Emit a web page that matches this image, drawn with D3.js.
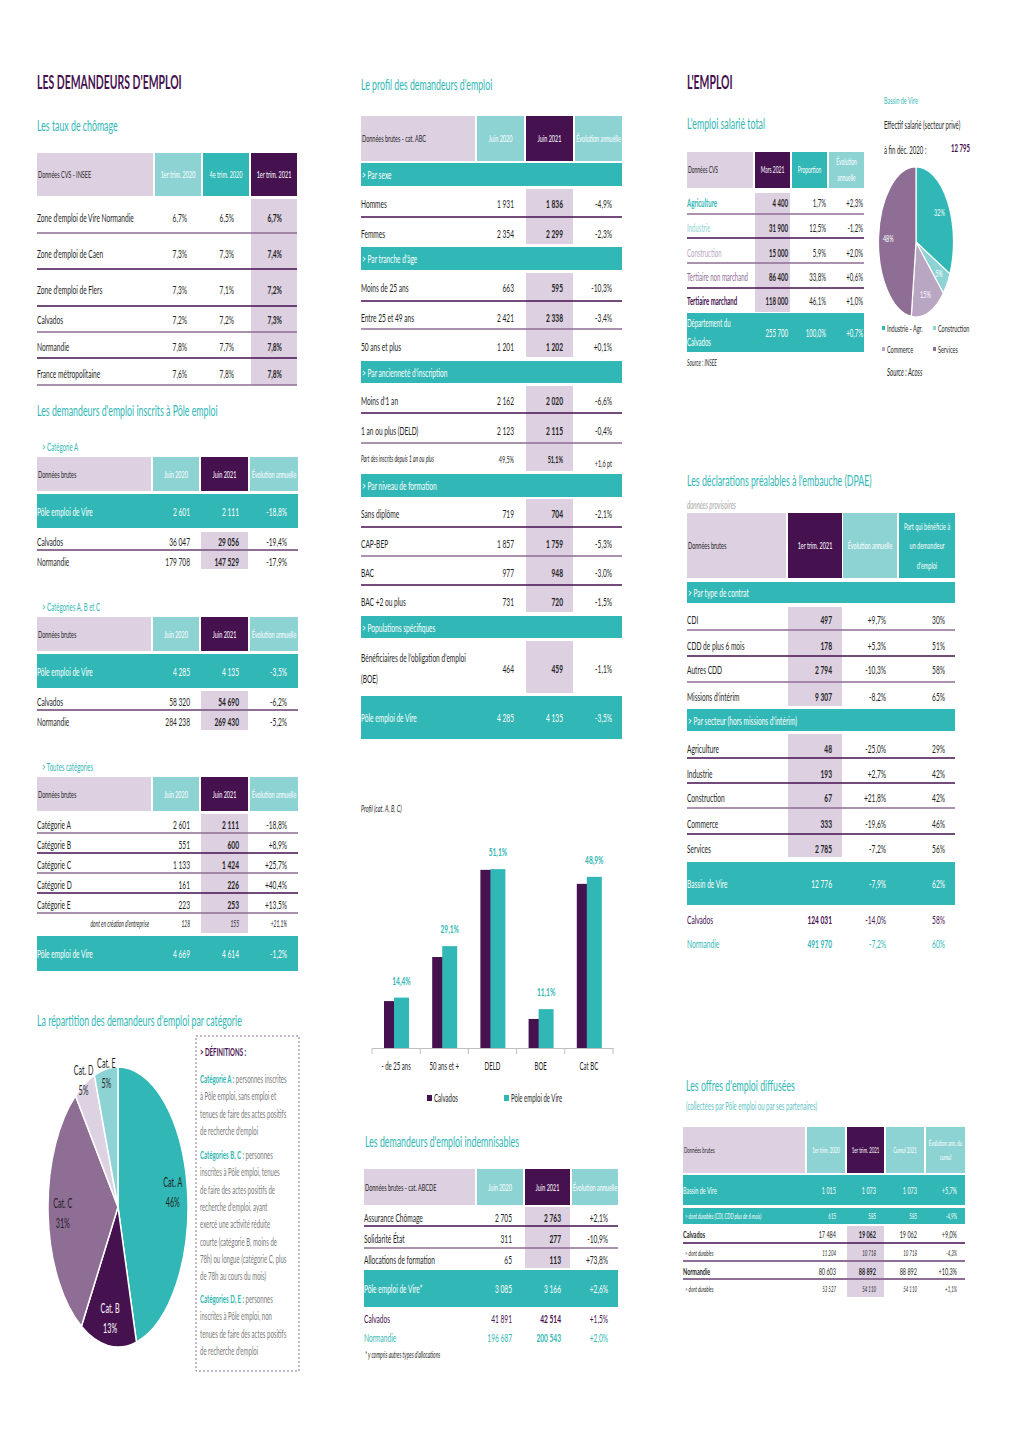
<!DOCTYPE html>
<html><head><meta charset="utf-8">
<script src="https://cdn.jsdelivr.net/npm/d3@7"></script>
<style>body{margin:0;background:#fff} svg{display:block;font-family:Lato,"Open Sans",sans-serif}</style>
</head><body><svg id="c" width="1020" height="1442"></svg>
<script>
// ================= DATA =================
const tauxHeads = ["1er trim. 2020", "4e trim. 2020", "1er trim. 2021"];
const tauxChomage = [
  ["Zone d'emploi de Vire Normandie", "6,7%", "6,5%", "6,7%"],
  ["Zone d'emploi de Caen", "7,3%", "7,3%", "7,4%"],
  ["Zone d'emploi de Flers", "7,3%", "7,1%", "7,2%"],
  ["Calvados", "7,2%", "7,2%", "7,3%"],
  ["Normandie", "7,8%", "7,7%", "7,8%"],
  ["France métropolitaine", "7,6%", "7,8%", "7,8%"]
];
const juinHeads = ["Juin 2020", "Juin 2021", "Évolution annuelle"];
const categorieA = [
  ["Pôle emploi de Vire", "2 601", "2 111", "-18,8%"],
  ["Calvados", "36 047", "29 056", "-19,4%"],
  ["Normandie", "179 708", "147 529", "-17,9%"]
];
const categoriesABC = [
  ["Pôle emploi de Vire", "4 285", "4 135", "-3,5%"],
  ["Calvados", "58 320", "54 690", "-6,2%"],
  ["Normandie", "284 238", "269 430", "-5,2%"]
];
const toutesCategories = [
  ["Catégorie A", "2 601", "2 111", "-18,8%"],
  ["Catégorie B", "551", "600", "+8,9%"],
  ["Catégorie C", "1 133", "1 424", "+25,7%"],
  ["Catégorie D", "161", "226", "+40,4%"],
  ["Catégorie E", "223", "253", "+13,5%"],
  ["dont en création d'entreprise", "128", "155", "+21,1%"],
  ["Pôle emploi de Vire", "4 669", "4 614", "-1,2%"]
];
const pieCategories = ["Cat. A", "Cat. B", "Cat. C", "Cat. D", "Cat. E"];
const pieCategoryValues = [2111, 600, 1424, 226, 253];
const definitions = [
  ["Catégorie A :", ["personnes inscrites", "à Pôle emploi, sans emploi et", "tenues de faire des actes positifs", "de recherche d'emploi"]],
  ["Catégories B, C :", ["personnes", "inscrites à Pôle emploi, tenues", "de faire des actes positifs de", "recherche d'emploi, ayant", "exercé une activité réduite", "courte (catégorie B, moins de", "78h) ou longue (catégorie C, plus", "de 78h au cours du mois)"]],
  ["Catégories D, E :", ["personnes", "inscrites à Pôle emploi, non", "tenues de faire des actes positifs", "de recherche d'emploi"]]
];
const profil = [
  ["> Par sexe"],
  ["Hommes", "1 931", "1 836", "-4,9%"],
  ["Femmes", "2 354", "2 299", "-2,3%"],
  ["> Par tranche d'âge"],
  ["Moins de 25 ans", "663", "595", "-10,3%"],
  ["Entre 25 et 49 ans", "2 421", "2 338", "-3,4%"],
  ["50 ans et plus", "1 201", "1 202", "+0,1%"],
  ["> Par ancienneté d'inscription"],
  ["Moins d'1 an", "2 162", "2 020", "-6,6%"],
  ["1 an ou plus (DELD)", "2 123", "2 115", "-0,4%"],
  ["Part des inscrits depuis 1 an ou plus", "49,5%", "51,1%", "+1,6 pt"],
  ["> Par niveau de formation"],
  ["Sans diplôme", "719", "704", "-2,1%"],
  ["CAP-BEP", "1 857", "1 759", "-5,3%"],
  ["BAC", "977", "948", "-3,0%"],
  ["BAC +2 ou plus", "731", "720", "-1,5%"],
  ["> Populations spécifiques"],
  ["Bénéficiaires de l'obligation d'emploi\n(BOE)", "464", "459", "-1,1%"],
  ["Pôle emploi de Vire", "4 285", "4 135", "-3,5%"]
];
const profilCategories = ["- de 25 ans", "50 ans et +", "DELD", "BOE", "Cat BC"];
const profilSeries = ["Calvados", "Pôle emploi de Vire"];
const profilCalvados = [13.4, 26.0, 50.9, 8.3, 46.9];
const profilVire = [14.4, 29.1, 51.1, 11.1, 48.9];
const indemnisables = [
  ["Assurance Chômage", "2 705", "2 763", "+2,1%"],
  ["Solidarité État", "311", "277", "-10,9%"],
  ["Allocations de formation", "65", "113", "+73,8%"],
  ["Pôle emploi de Vire*", "3 085", "3 166", "+2,6%"],
  ["Calvados", "41 891", "42 514", "+1,5%"],
  ["Normandie", "196 687", "200 543", "+2,0%"]
];
const emploiHeads = ["Mars 2021", "Proportion", "Évolution\nannuelle"];
const emploiSalarie = [
  ["Agriculture", "4 400", "1,7%", "+2,3%"],
  ["Industrie", "31 900", "12,5%", "-1,2%"],
  ["Construction", "15 000", "5,9%", "+2,0%"],
  ["Tertiaire non marchand", "86 400", "33,8%", "+0,6%"],
  ["Tertiaire marchand", "118 000", "46,1%", "+1,0%"],
  ["Département du\nCalvados", "255 700", "100,0%", "+0,7%"]
];
const secteurLabels = ["Industrie - Agr.", "Construction", "Commerce", "Services"];
const secteurParts = [32, 5, 15, 48];
const dpaeHeads = ["1er trim. 2021", "Évolution annuelle", "Part qui bénéficie à\nun demandeur\nd'emploi"];
const dpae = [
  ["> Par type de contrat"],
  ["CDI", "497", "+9,7%", "30%"],
  ["CDD de plus 6 mois", "178", "+5,3%", "51%"],
  ["Autres CDD", "2 794", "-10,3%", "58%"],
  ["Missions d'intérim", "9 307", "-8,2%", "65%"],
  ["> Par secteur (hors missions d'intérim)"],
  ["Agriculture", "48", "-25,0%", "29%"],
  ["Industrie", "193", "+2,7%", "42%"],
  ["Construction", "67", "+21,8%", "42%"],
  ["Commerce", "333", "-19,6%", "46%"],
  ["Services", "2 785", "-7,2%", "56%"],
  ["Bassin de Vire", "12 776", "-7,9%", "62%"],
  ["Calvados", "124 031", "-14,0%", "58%"],
  ["Normandie", "491 970", "-7,2%", "60%"]
];
const offresHeads = ["1er trim. 2020", "1er trim. 2021", "Cumul 2021", "Évolution ann. du\ncumul"];
const offres = [
  ["Bassin de Vire", "1 015", "1 073", "1 073", "+5,7%"],
  ["> dont durables (CDI, CDD plus de 6 mois)", "615", "585", "585", "-4,9%"],
  ["Calvados", "17 484", "19 062", "19 062", "+9,0%"],
  ["> dont durables", "11 204", "10 718", "10 718", "-4,3%"],
  ["Normandie", "80 603", "88 892", "88 892", "+10,3%"],
  ["> dont durables", "53 527", "54 110", "54 110", "+1,1%"]
];

// ================= STYLE / HELPERS =================
const SX = 0.55;
const DP = "#45114f", TEAL = "#31b7b5", LTEAL = "#8ed3d4", LAV = "#dcd0e1",
      MP = "#8e6e95", LAV2 = "#b9a6c3", INK = "#1f1f1f", GRAY = "#7a7a7a";
const svg = d3.select("#c");
svg.append("rect").attr("width", 1020).attr("height", 1442).attr("fill", "#fff");

function T(g, x, y, s, o = {}) {
  return g.append("text")
    .attr("transform", `translate(${x},${y}) scale(${o.sx || SX},1)`)
    .attr("text-anchor", o.anchor || "start")
    .attr("dominant-baseline", "central")
    .style("font-size", (o.size || 12) + "px")
    .style("font-weight", o.weight || "normal")
    .style("font-style", o.italic ? "italic" : "normal")
    .attr("fill", o.fill || INK)
    .text(s);
}
function R(g, x, y, w, h, f) {
  return g.append("rect").attr("x", x).attr("y", y).attr("width", w).attr("height", h).attr("fill", f);
}
function L(g, x1, x2, y, c, w) {
  g.append("line").attr("x1", x1).attr("x2", x2).attr("y1", y).attr("y2", y)
    .attr("stroke", c).attr("stroke-width", w || 1.3);
}

function table(o, data, layout) {
  const g = svg.append("g");
  const right = o.cols[o.cols.length - 1][1];
  const hs = o.hs || 10, fs = o.fs || 12;
  R(g, o.lx0, o.hy[0], o.lx1 - o.lx0, o.hy[1] - o.hy[0], LAV);
  T(g, o.lx0 + 1, (o.hy[0] + o.hy[1]) / 2, o.hLabel, { size: hs });
  o.cols.forEach((c, i) => {
    R(g, c[0], o.hy[0], c[1] - c[0], o.hy[1] - o.hy[0], o.hFill[i]);
    const lines = o.heads[i].split("\n"), lh = o.hlh || 14;
    lines.forEach((s, j) => T(g, (c[0] + c[1]) / 2, (o.hy[0] + o.hy[1]) / 2 + (j - (lines.length - 1) / 2) * lh, s,
      { size: hs, fill: "#fff", anchor: "middle" }));
  });
  const hc = o.cols[o.hi];
  o.hiR.forEach(r => R(g, hc[0], r[0], hc[1] - hc[0], r[1] - r[0], LAV));
  layout.forEach((r, idx) => {
    const d = data[idx];
    const ls = r.ls || fs, vs = r.vs || fs;
    if (r.k === "b") {
      R(g, o.lx0, r.y0, right - o.lx0, r.y1 - r.y0, TEAL);
      T(g, o.lx0 + 1, (r.y0 + r.y1) / 2, d[0], { size: fs, fill: "#fff" });
      return;
    }
    let y = r.y, lf = r.lf || INK, vf = r.vf || INK;
    if (r.k === "t") {
      R(g, o.lx0, r.y0, right - o.lx0, r.y1 - r.y0, TEAL);
      y = (r.y0 + r.y1) / 2; lf = "#fff"; vf = "#fff";
    }
    const lines = d[0].split("\n"), lh = r.lh || 14;
    lines.forEach((s, j) => T(g, r.lx || o.lx0, y + (j - (lines.length - 1) / 2) * lh, s,
      { size: ls, fill: lf, italic: r.it, weight: r.lb ? "bold" : "normal", anchor: r.la || "start" }));
    d.slice(1).forEach((v, i) => T(g, o.vx[i], y + ((r.vdy && r.vdy[i]) || 0), v,
      { size: vs, fill: vf, anchor: "end", italic: r.it && r.vit,
        weight: (i === o.hi && r.k !== "t" && !r.nb) ? "bold" : "normal" }));
    if (r.line) L(g, o.lx0, right, r.line, r.lc || DP, r.lw);
  });
}

// ================= LEFT COLUMN =================
T(svg, 37, 82, "LES DEMANDEURS D'EMPLOI", { size: 19, weight: "bold", fill: DP });
T(svg, 37, 125, "Les taux de chômage", { size: 16, fill: TEAL });

table({ lx0: 37, lx1: 153, cols: [[155, 201], [203, 249], [251, 297]], vx: [187, 234, 282],
        hy: [153, 196], hLabel: "Données CVS - INSEE", heads: tauxHeads, hFill: [LTEAL, TEAL, DP],
        hi: 2, hiR: [[199, 385]] }, tauxChomage,
  [{ y: 217, line: 233, lc: MP }, { y: 253, line: 269 }, { y: 289, line: 306 },
   { y: 319, line: 332, lc: MP }, { y: 346, line: 358 }, { y: 373, line: 385, lc: MP }]);

T(svg, 37, 410, "Les demandeurs d'emploi inscrits à Pôle emploi", { size: 16, fill: TEAL });
T(svg, 42, 447, "> Catégorie A", { size: 11, fill: TEAL });
const juinCols = { lx0: 37, lx1: 151, cols: [[153, 199], [201, 248], [250, 298]], vx: [190, 239, 287],
  hLabel: "Données brutes", heads: juinHeads, hFill: [LTEAL, DP, LTEAL], hi: 1 };
table({ ...juinCols, hy: [457, 491], hiR: [[532, 569]] }, categorieA,
  [{ k: "t", y0: 494, y1: 528 }, { y: 541, line: 550, lc: MP, lw: 2 }, { y: 561 }]);
T(svg, 42, 607, "> Catégories A, B et C", { size: 11, fill: TEAL });
table({ ...juinCols, hy: [617, 651], hiR: [[691, 730]] }, categoriesABC,
  [{ k: "t", y0: 654, y1: 688 }, { y: 701, line: 710, lc: MP, lw: 2 }, { y: 721 }]);
T(svg, 42, 767, "> Toutes catégories", { size: 11, fill: TEAL });
table({ ...juinCols, hy: [777, 811], hiR: [[814, 933]] }, toutesCategories,
  [{ y: 824, line: 833, lc: MP }, { y: 844, line: 853 }, { y: 864, line: 873, lc: MP },
   { y: 884, line: 893 }, { y: 904, line: 913, lc: MP },
   { y: 924, it: true, ls: 9, vs: 9, vit: true, nb: true, lx: 149, la: "end" },
   { k: "t", y0: 936, y1: 971 }]);

T(svg, 37, 1020, "La répartition des demandeurs d'emploi par catégorie", { size: 16, fill: TEAL });
// pie (ellipse, horizontally compressed like the reference)
const pieColors = [TEAL, DP, MP, "#ddd2e2", LTEAL];
const pieLabelFill = [INK, "#fff", INK, INK, INK];
const pieLabelR = [0.79, 0.8, 0.79, 1.03, 0.97];
const pcx = 118, pcy = 1207, pr = 140;
const arcsL = d3.pie().sort(null)(pieCategoryValues);
const totalL = d3.sum(pieCategoryValues);
svg.append("g").attr("transform", `translate(${pcx},${pcy}) scale(0.5,1)`)
  .selectAll("path").data(arcsL).join("path")
  .attr("d", d3.arc().innerRadius(0).outerRadius(pr))
  .attr("fill", (d, i) => pieColors[i]).attr("stroke", "#fff").attr("stroke-width", 1.5)
  .attr("vector-effect", "non-scaling-stroke");
arcsL.forEach((d, i) => {
  const a = (d.startAngle + d.endAngle) / 2, rr = pr * pieLabelR[i];
  const x = pcx + 0.5 * rr * Math.sin(a), y = pcy - rr * Math.cos(a);
  T(svg, x, y - 10, pieCategories[i], { size: 13, anchor: "middle", fill: pieLabelFill[i] });
  T(svg, x, y + 10, Math.round(d.value / totalL * 100) + "%", { size: 13, anchor: "middle", fill: pieLabelFill[i] });
});
// definitions box
svg.append("rect").attr("x", 196).attr("y", 1036).attr("width", 103).attr("height", 335)
  .attr("fill", "none").attr("stroke", MP).attr("stroke-width", 1).attr("stroke-dasharray", "2,2");
T(svg, 200, 1052, "> DÉFINITIONS :", { size: 11, weight: "bold", fill: DP });
const defStart = [1078, 1154, 1298], defLH = 17.35;
definitions.forEach((blk, b) => {
  blk[1].forEach((s, j) => {
    const t = T(svg, 200, defStart[b] + j * defLH, "", { size: 11, fill: GRAY });
    if (j === 0) t.append("tspan").attr("fill", TEAL).style("font-weight", "bold").text(blk[0] + " ");
    t.append("tspan").text(s);
  });
});

// ================= MIDDLE COLUMN =================
T(svg, 361, 84, "Le profil des demandeurs d'emploi", { size: 16, fill: TEAL });
table({ lx0: 361, lx1: 475, cols: [[477, 524], [526, 573], [575, 622]], vx: [514, 563, 612],
        hy: [116, 161], hLabel: "Données brutes - cat. ABC", heads: juinHeads, hFill: [LTEAL, DP, LTEAL],
        hi: 1, hiR: [[189, 244], [273, 357], [386, 471], [499, 612], [641, 693]] }, profil,
  [{ k: "b", y0: 163, y1: 186 },
   { y: 203, line: 217 }, { y: 233 },
   { k: "b", y0: 247, y1: 270 },
   { y: 287, line: 301 }, { y: 317, line: 329, lc: MP }, { y: 346 },
   { k: "b", y0: 361, y1: 383 },
   { y: 400, line: 413 }, { y: 430, line: 443, lc: MP },
   { y: 459, it: true, ls: 9, vs: 10, vdy: [0, 0, 4] },
   { k: "b", y0: 474, y1: 497 },
   { y: 513, line: 527 }, { y: 543, line: 556, lc: MP }, { y: 572, line: 585 }, { y: 601 },
   { k: "b", y0: 616, y1: 638 },
   { y: 668, lh: 21 },
   { k: "t", y0: 696, y1: 739 }]);

// bar chart
T(svg, 361, 808, "Profil (cat. A, B, C)", { size: 10, italic: true });
const xb = d3.scaleBand().domain(profilCategories).range([372, 613]);
const yb = d3.scaleLinear().domain([0, 60]).range([1048, 838]);
const gb = svg.append("g");
const barOff = [12, 22], barW = 15, barFill = [DP, TEAL];
[profilCalvados, profilVire].forEach((vals, s) => {
  gb.selectAll(null).data(vals).join("rect")
    .attr("x", (v, i) => xb(profilCategories[i]) + barOff[s]).attr("width", barW)
    .attr("y", v => yb(v)).attr("height", v => yb(0) - yb(v)).attr("fill", barFill[s]);
});
const fmt = v => d3.format(".1f")(v).replace(".", ",") + "%";
profilVire.forEach((v, i) => T(gb, xb(profilCategories[i]) + barOff[1] + barW / 2, yb(v) - 18, fmt(v),
  { size: 12, anchor: "middle", fill: TEAL, weight: "bold" }));
const axG = svg.append("g").attr("transform", "translate(0,1048)")
  .call(d3.axisBottom(xb).tickSize(0).tickSizeOuter(0).tickPadding(14));
axG.select(".domain").attr("stroke", "#bfbfbf");
axG.selectAll("text").attr("transform", `scale(${SX},1)`).style("font-size", "11px").attr("fill", INK)
  .style("font-family", "Lato, sans-serif");
profilCategories.concat([null]).forEach((c, i) => {
  const x = c ? xb(c) : xb.range()[1];
  svg.append("line").attr("x1", x).attr("x2", x).attr("y1", 1048).attr("y2", 1054).attr("stroke", "#bfbfbf");
});
const legX = [427, 504];
profilSeries.forEach((s, i) => {
  R(svg, legX[i], 1095, 5, 6, barFill[i]);
  T(svg, legX[i] + 7, 1098, s, { size: 11 });
});

T(svg, 365, 1141, "Les demandeurs d'emploi indemnisables", { size: 16, fill: TEAL });
table({ lx0: 364, lx1: 475, cols: [[477, 523], [525, 570], [572, 618]], vx: [512, 561, 608],
        hy: [1169, 1205], hLabel: "Données brutes - cat. ABCDE", heads: juinHeads, hFill: [LTEAL, DP, LTEAL],
        hi: 1, hiR: [[1207, 1268]] }, indemnisables,
  [{ y: 1217, line: 1226 }, { y: 1238, line: 1248, lc: MP }, { y: 1259 },
   { k: "t", y0: 1270, y1: 1307 },
   { y: 1318, lf: DP, vf: DP }, { y: 1337, lf: TEAL, vf: TEAL }]);
T(svg, 365, 1355, "* y compris autres types d'allocations", { size: 9, italic: true });

// ================= RIGHT COLUMN =================
T(svg, 687, 82, "L'EMPLOI", { size: 19, weight: "bold", fill: DP });
T(svg, 884, 100, "Bassin de Vire", { size: 10, fill: TEAL });
T(svg, 687, 123, "L'emploi salarié total", { size: 16, fill: TEAL });
T(svg, 884, 125, "Effectif salarié (secteur privé)", { size: 11 });
T(svg, 884, 150, "à fin déc. 2020 :", { size: 11 });
T(svg, 970, 148, "12 795", { size: 11, weight: "bold", fill: DP, anchor: "end" });

table({ lx0: 687, lx1: 753, cols: [[755, 790], [792, 827], [829, 864]], vx: [788, 826, 863],
        hy: [152, 188], hLabel: "Données CVS", heads: emploiHeads, hFill: [DP, TEAL, LTEAL],
        hi: 0, hiR: [[193, 312]], hs: 9, fs: 11, hlh: 16 }, emploiSalarie,
  [{ y: 203, line: 214, lc: MP, lf: TEAL, lb: true }, { y: 228, line: 238, lf: LTEAL },
   { y: 253, line: 263, lc: MP, lf: LAV2 }, { y: 277, line: 288, lf: MP },
   { y: 301, lf: DP, lb: true }, { k: "t", y0: 313, y1: 352, lh: 19 }]);
T(svg, 687, 363, "Source : INSEE", { size: 9, italic: true });

// right pie
const secColors = [TEAL, LTEAL, LAV2, MP];
const scx = 916, scy = 242, sr = 75;
const arcsR = d3.pie().sort(null)(secteurParts);
svg.append("g").attr("transform", `translate(${scx},${scy}) scale(0.5,1)`)
  .selectAll("path").data(arcsR).join("path")
  .attr("d", d3.arc().innerRadius(0).outerRadius(sr))
  .attr("fill", (d, i) => secColors[i]).attr("stroke", "#fff").attr("stroke-width", 1.2)
  .attr("vector-effect", "non-scaling-stroke");
arcsR.forEach((d, i) => {
  const a = (d.startAngle + d.endAngle) / 2, rr = sr * 0.74;
  T(svg, scx + 0.5 * rr * Math.sin(a), scy - rr * Math.cos(a), d.value + "%", { size: 10, anchor: "middle", fill: "#fff" });
});
const slx = [882, 933], sly = [328, 349];
secteurLabels.forEach((s, i) => {
  const x = slx[i % 2], y = sly[Math.floor(i / 2)];
  R(svg, x, y - 2, 3, 4, secColors[i]);
  T(svg, x + 5, y, s, { size: 10 });
});
T(svg, 887, 372, "Source : Acoss", { size: 11, italic: true });

T(svg, 687, 480, "Les déclarations préalables à l'embauche (DPAE)", { size: 16, fill: TEAL });
T(svg, 687, 505, "données provisoires", { size: 11, italic: true, fill: "#a6a6a6" });
table({ lx0: 687, lx1: 786, cols: [[788, 842], [843, 897], [899, 955]], vx: [832, 886, 945],
        hy: [513, 578], hLabel: "Données brutes", heads: dpaeHeads, hFill: [DP, LTEAL, TEAL],
        hi: 0, hiR: [[607, 706], [734, 857]], hlh: 19.5 }, dpae,
  [{ k: "b", y0: 582, y1: 603 },
   { y: 619, line: 630, lc: MP }, { y: 645, line: 656 }, { y: 669, line: 682, lc: MP }, { y: 696 },
   { k: "b", y0: 709, y1: 731 },
   { y: 748, line: 758 }, { y: 773, line: 783 }, { y: 797, line: 808, lc: MP },
   { y: 823, line: 834 }, { y: 848 },
   { k: "t", y0: 862, y1: 905 },
   { y: 919, lf: DP, vf: DP }, { y: 943, lf: TEAL, vf: TEAL }]);

T(svg, 686, 1085, "Les offres d'emploi diffusées", { size: 16, fill: TEAL });
T(svg, 686, 1106, "(collectées par Pôle emploi ou par ses partenaires)", { size: 11, fill: "#5ec4c3" });
table({ lx0: 683, lx1: 805, cols: [[807, 845], [847, 884], [886, 924], [926, 965]], vx: [836, 876, 917, 957],
        hy: [1127, 1173], hLabel: "Données brutes", heads: offresHeads, hFill: [LTEAL, DP, LTEAL, LTEAL],
        hi: 1, hiR: [[1226, 1297]], hs: 8, fs: 10, hlh: 14 }, offres,
  [{ k: "t", y0: 1175, y1: 1205 },
   { k: "t", y0: 1208, y1: 1224, it: true, ls: 8, vs: 8, lx: 685 },
   { y: 1234, line: 1243, lb: true },
   { y: 1253, line: 1261, lc: MP, lw: 2, it: true, vit: true, ls: 8, vs: 8, nb: true, lx: 685 },
   { y: 1271, line: 1279, lc: MP, lw: 2, lb: true },
   { y: 1289, it: true, vit: true, ls: 8, vs: 8, nb: true, lx: 685 }]);
</script></body></html>
